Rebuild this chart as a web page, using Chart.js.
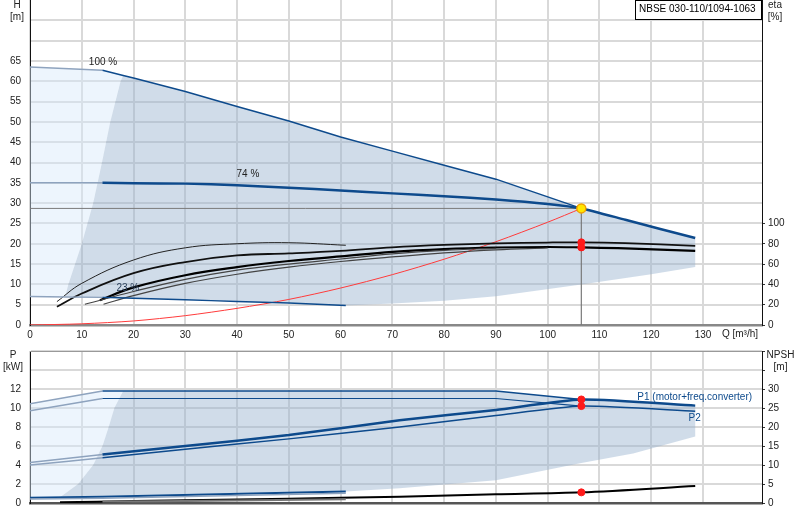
<!DOCTYPE html>
<html>
<head>
<meta charset="utf-8">
<script src="https://cdn.jsdelivr.net/npm/chart.js@4/dist/chart.umd.min.js"></script>
<style>
  body { margin: 0; background: #fff; overflow: hidden; }
  .wrap { position: absolute; left: 0; width: 800px; }
</style>
</head>
<body>
<div class="wrap" id="headWrap" style="top:-14px;height:354px"><canvas id="head"></canvas></div>
<div class="wrap" id="powerWrap" style="top:337px;height:183px"><canvas id="power"></canvas></div>
<script>
// ---- head chart (Q in m³/h, H in m, eta in %) ----
const qMax = [0, 14, 18, 20, 30, 40, 50, 60, 70, 80, 90, 106.5];
const hMax = [63.5, 62.7, 61.4, 60.8, 57.5, 53.8, 50.2, 46.3, 42.8, 39.3, 35.9, 28.7];
const qDuty = [0, 14, 20, 30, 40, 50, 60, 70, 80, 90, 100, 106.5, 115, 128.5];
const hDuty = [35, 35, 34.9, 34.8, 34.4, 33.8, 33.1, 32.4, 31.7, 30.9, 29.8, 28.7, 25.9, 21.4];
const qMin = [0, 14, 20, 30, 40, 50, 61];
const hMin = [7, 6.8, 6.6, 6.2, 5.8, 5.4, 4.8];
const qFlow = [6.8, 7.4, 10, 12.2, 13.9, 15.5, 17.5, 18];
const hFlow = [7, 10, 20, 30, 40, 50, 60, 61.4];
const qLow = [128.5, 120, 106.5, 90, 80, 70, 61];
const hLow = [14.3, 12.5, 10, 7.1, 6.0, 5.3, 4.8];
const qSys = [0, 10, 20, 30, 40, 50, 60, 70, 80, 90, 100, 106.5];
const hSys = [0, 0.3, 1.0, 2.3, 4.1, 6.3, 9.1, 12.4, 16.2, 20.5, 25.3, 28.7];
const qOp = 106.5;
const hOp = 28.7;
const etaOp = [81.4, 76.4];

const qEtaA = [5.2, 10, 20, 30, 40, 50, 61];
const etaA = [23, 41, 64, 76, 80, 81, 78.5];
const qEtaB = [5.2, 10, 20, 30, 40, 50, 60, 70, 80, 90, 100, 106.5, 115, 128.5];
const etaB = [18, 31, 51, 62, 68.5, 70.5, 73, 76.5, 78.8, 80.3, 81.2, 81.4, 80.6, 78];
const qEtaC = [13.5, 20, 30, 40, 50, 60, 70, 80, 90, 100, 106.5, 115, 128.5];
const etaC = [24.4, 37, 49, 57, 63, 67.5, 72, 74.8, 76.3, 76.8, 76.4, 75.5, 73];
const qEtaD = [10.6, 20, 30, 40, 50, 60, 70, 80, 90];
const etaD = [20.4, 33, 45, 54, 60, 65, 70, 73.5, 75.5];
const qEtaE = [14.2, 20, 30, 40, 50, 60, 70, 80, 90, 100];
const etaE = [20.4, 29, 41, 50, 57, 62.5, 67, 71, 74, 75.8];

// ---- power chart (P in kW, NPSH in m) ----
const qP1Max = [0, 14, 18, 90, 106.5];
const pP1Max = [10.45, 11.8, 11.8, 11.8, 10.9];
const qP2Max = [0, 14, 90, 106.5];
const pP2Max = [9.7, 11.0, 11.0, 10.2];
const qPDuty = [0, 14, 30, 50, 71.4, 90, 106.5, 128.5];
const pP1Duty = [4.27, 5.1, 6.0, 7.15, 8.7, 9.8, 10.9, 10.25];
const pP2Duty = [3.99, 4.76, 5.65, 6.75, 8.0, 9.2, 10.2, 9.66];
const qPMin = [0, 14, 61];
const pP1Min = [0.56, 0.66, 1.2];
const pP2Min = [0.42, 0.5, 1.02];
const qPFlow = [5.8, 9.3, 12.2, 14, 15.2, 16.3, 18];
const pFlow = [0.6, 2, 4, 6, 8, 10, 11.8];
const qPLow = [128.5, 116.5, 106.5, 90, 71.4, 61];
const pLow = [7.0, 5.2, 4.2, 2.4, 1.55, 1.2];
const qNpsh = [5.8, 20, 40, 60, 71.4, 90, 106.5, 128.5];
const npsh = [0.2, 0.5, 0.9, 1.35, 1.65, 2.28, 2.8, 4.46];
const qNpsh2 = [14, 35, 61];
const npsh2 = [0.4, 0.6, 1.0];
const pOp = [10.9, 10.2];
const npshOp = 2.8;

const qTicks = [0, 10, 20, 30, 40, 50, 60, 70, 80, 90, 100, 110, 120, 130];

const BLUE = '#0d4a8c';
const PALE = '#8ea3be';
const GRID = '#d9d9d9';
const FONT = '"Liberation Sans", Arial, sans-serif';

Chart.defaults.font.family = FONT;
Chart.defaults.font.size = 10;
Chart.defaults.color = '#222';

const pts = (qs, vs) => qs.map((q, i) => ({x: q, y: vs[i]}));

// first segment (left of min flow) drawn thin and pale
const paleStart = {
  borderColor: c => c.p0DataIndex === 0 ? PALE : undefined,
  borderWidth: c => c.p0DataIndex === 0 ? 1.5 : undefined,
};

function curve(data, color, width, extra) {
  return Object.assign({
    type: 'line', data, borderColor: color, borderWidth: width,
    pointRadius: 0, fill: false, tension: 0, order: 10,
  }, extra);
}
function area(data, color, order) {
  return {
    type: 'line', data, fill: 'shape', backgroundColor: color,
    borderColor: 'transparent', borderWidth: 0, pointRadius: 0, order,
  };
}
function dots(data, color, r, extra) {
  return Object.assign({
    type: 'line', data, showLine: false, pointRadius: r,
    pointBackgroundColor: color, pointBorderColor: color, order: 0,
  }, extra);
}

const notes = {
  id: 'notes',
  afterDraw(chart, args, opts) {
    const {ctx, chartArea: a, scales} = chart;
    ctx.save();
    ctx.font = '10px ' + FONT;
    ctx.textBaseline = 'middle';
    (opts.labels || []).forEach(l => {
      ctx.fillStyle = l.color || '#222';
      ctx.textAlign = l.align || 'center';
      ctx.fillText(l.text, scales.x.getPixelForValue(l.q), scales[l.axis || 'y'].getPixelForValue(l.v));
    });
    (opts.units || []).forEach(u => {
      ctx.fillStyle = '#222';
      ctx.textAlign = 'center';
      const x = u.left ? a.left - u.dx : a.right + u.dx;
      u.lines.forEach((t, i) => ctx.fillText(t, x, a.top + u.dy + i * 12));
    });
    if (opts.qLabel) {
      ctx.textAlign = 'center';
      ctx.fillStyle = '#222';
      ctx.fillText(opts.qLabel, a.right - 22, a.bottom + 9.5);
    }
    if (opts.topLine) {
      ctx.strokeStyle = opts.topLine;
      ctx.lineWidth = 1;
      ctx.beginPath();
      ctx.moveTo(a.left, a.top + 0.5);
      ctx.lineTo(a.right, a.top + 0.5);
      ctx.stroke();
    }
    if (opts.box) {
      const w = 127, h = 19;
      ctx.fillStyle = '#fff';
      ctx.fillRect(a.right - w, a.top, w, h);
      ctx.strokeStyle = '#000';
      ctx.lineWidth = 1;
      ctx.strokeRect(a.right - w + 0.5, a.top + 0.5, w - 1, h);
      ctx.fillStyle = '#000';
      ctx.textAlign = 'left';
      ctx.fillText(opts.box, a.right - w + 4, a.top + 9.5);
    }
    ctx.restore();
  }
};

function xScale(showLabels, h, borderColor) {
  return {
    type: 'linear', min: 0, max: 141.4,
    afterFit: s => { s.height = h; },
    grid: {color: GRID, lineWidth: 2, drawTicks: false},
    border: {color: borderColor, width: 2.5},
    ticks: {
      display: showLabels, stepSize: 10, autoSkip: false, maxRotation: 0, padding: 4,
      callback: v => qTicks.includes(v) ? String(v) : (v === 140 ? '' : null),
    },
  };
}

// move/resize the canvas box so the plot area lands on the wanted page rows
function pin(chart, wrap, areaTop, areaHeight, axisHeight) {
  const t = chart.chartArea.top;
  wrap.style.top = (areaTop - t) + 'px';
  wrap.style.height = (t + areaHeight + axisHeight) + 'px';
  chart.resize();
}

// ---------------- head chart ----------------
const grayHead = pts(qFlow, hFlow)
  .concat(pts(qMax, hMax).slice(3))
  .concat(pts(qDuty, hDuty).slice(12))
  .concat(pts(qLow, hLow))
  .concat(pts(qMin, hMin).slice(1, 6).reverse());
const lightHead = pts(qMin, hMin).slice(0, 1)
  .concat(pts(qFlow, hFlow))
  .concat(pts(qMax, hMax).slice(0, 2).reverse());

const head = new Chart(document.getElementById('head'), {
  data: {
    datasets: [
      area(lightHead, 'rgba(215,233,251,0.45)', 31),
      area(grayHead, 'rgba(150,178,206,0.45)', 30),
      curve(pts([0, qOp], [hOp, hOp]), '#7a7a7a', 1, {order: 12}),
      curve(pts([qOp, qOp], [0, hOp]), '#7a7a7a', 1.2, {order: 12}),
      curve(pts(qSys, hSys), '#ff3b3b', 1, {tension: 0.3, order: 11}),
      curve(pts(qMax, hMax), BLUE, 1.5, {segment: paleStart}),
      curve(pts(qMin, hMin), BLUE, 1.5, {segment: paleStart, tension: 0.2}),
      curve(pts(qDuty, hDuty), BLUE, 2.5, {segment: paleStart, tension: 0.2, order: 9}),
      curve(pts(qEtaA, etaA), '#222', 1, {yAxisID: 'eta', tension: 0.4}),
      curve(pts(qEtaD, etaD), '#444', 1.2, {yAxisID: 'eta', tension: 0.4}),
      curve(pts(qEtaE, etaE), '#444', 1.2, {yAxisID: 'eta', tension: 0.4}),
      curve(pts(qEtaB, etaB), '#111', 1.8, {yAxisID: 'eta', tension: 0.4}),
      curve(pts(qEtaC, etaC), '#000', 2.2, {yAxisID: 'eta', tension: 0.4}),
      dots(pts([qOp, qOp], etaOp), '#ff1a1a', 3.5, {yAxisID: 'eta'}),
      dots(pts([qOp], [hOp]), '#ffe600', 4.5, {pointBorderColor: '#f0a000', pointBorderWidth: 1.5}),
    ]
  },
  options: {
    responsive: true, maintainAspectRatio: false, animation: false, events: [],
    devicePixelRatio: 1,
    layout: {padding: 0, autoPadding: false},
    plugins: {
      legend: {display: false}, tooltip: {enabled: false},
      notes: {
        box: 'NBSE 030-110/1094-1063',
        qLabel: 'Q [m³/h]',
        units: [
          {left: true, dx: 13, dy: 5, lines: ['H', '[m]']},
          {left: false, dx: 13, dy: 5, lines: ['eta', '[%]']},
        ],
        labels: [
          {text: '100 %', q: 14.1, v: 64.8},
          {text: '74 %', q: 42.1, v: 37.1},
          {text: '23 %', q: 18.9, v: 9.0, color: '#2a3f5a'},
        ],
      },
    },
    scales: {
      x: xScale(true, 15, '#888'),
      y: {
        type: 'linear', position: 'left', min: 0, max: 80,
        afterFit: s => { s.width = 30; },
        grid: {color: GRID, lineWidth: 2, drawTicks: false},
        border: {color: '#111', width: 1},
        ticks: {
          stepSize: 5, padding: 9, autoSkip: false,
          callback: v => v <= 65 ? String(v) : (v < 80 ? '' : null),
        },
      },
      eta: {
        type: 'linear', position: 'right', min: 0, max: 320,
        afterFit: s => { s.width = 38; },
        grid: {drawOnChartArea: false, drawTicks: true, tickLength: 3, color: '#333'},
        border: {color: '#111', width: 1},
        ticks: {
          stepSize: 20, padding: 3, autoSkip: false,
          callback: v => v <= 100 ? String(v) : null,
        },
      },
    },
  },
  plugins: [notes],
});
pin(head, document.getElementById('headWrap'), 0, 325, 15);

// ---------------- power chart ----------------
const grayPower = pts(qPFlow, pFlow)
  .concat(pts(qP1Max, pP1Max).slice(3))
  .concat(pts(qPDuty, pP1Duty).slice(7))
  .concat(pts(qPLow, pLow))
  .concat(pts(qPMin, pP1Min).slice(1, 2));
const lightPower = pts(qPMin, pP1Min).slice(0, 1)
  .concat(pts(qPFlow, pFlow))
  .concat(pts(qP1Max, pP1Max).slice(0, 2).reverse());

const power = new Chart(document.getElementById('power'), {
  data: {
    datasets: [
      area(lightPower, 'rgba(215,233,251,0.45)', 31),
      area(grayPower, 'rgba(150,178,206,0.45)', 30),
      curve(pts(qP1Max, pP1Max), BLUE, 1.5, {segment: paleStart}),
      curve(pts(qP2Max, pP2Max), BLUE, 1.2, {segment: paleStart}),
      curve(pts(qPDuty, pP1Duty), BLUE, 2.5, {segment: paleStart, tension: 0.2, order: 9}),
      curve(pts(qPDuty, pP2Duty), BLUE, 1.5, {segment: paleStart, tension: 0.2, order: 9}),
      curve(pts(qPMin, pP2Min), PALE, 1.5),
      curve(pts(qPMin, pP1Min), BLUE, 2),
      curve(pts(qNpsh2, npsh2), '#777', 2, {yAxisID: 'npsh', tension: 0.3}),
      curve(pts(qNpsh, npsh), '#000', 2, {yAxisID: 'npsh', tension: 0.3}),
      dots(pts([qOp, qOp], pOp), '#ff1a1a', 3.5),
      dots(pts([qOp], [npshOp]), '#ff1a1a', 3.5, {yAxisID: 'npsh'}),
    ]
  },
  options: {
    responsive: true, maintainAspectRatio: false, animation: false, events: [],
    devicePixelRatio: 1,
    layout: {padding: 0, autoPadding: false},
    plugins: {
      legend: {display: false}, tooltip: {enabled: false},
      notes: {
        topLine: '#999',
        units: [
          {left: true, dx: 17, dy: 4.5, lines: ['P', '[kW]']},
          {left: false, dx: 18.5, dy: 4.5, lines: ['NPSH', '[m]']},
        ],
        labels: [
          {text: 'P1 (motor+freq.converter)', q: 128.4, v: 11.17, color: BLUE},
          {text: 'P2', q: 127.2, v: 8.96, color: BLUE, align: 'left'},
        ],
      },
    },
    scales: {
      x: xScale(false, 17, '#555'),
      y: {
        type: 'linear', position: 'left', min: 0, max: 16,
        afterFit: s => { s.width = 30; },
        grid: {color: GRID, lineWidth: 2, drawTicks: false},
        border: {color: '#111', width: 1},
        ticks: {
          stepSize: 2, padding: 9, autoSkip: false,
          callback: v => v <= 12 ? String(v) : '',
        },
      },
      npsh: {
        type: 'linear', position: 'right', min: 0, max: 40,
        afterFit: s => { s.width = 38; },
        grid: {drawOnChartArea: false, drawTicks: true, tickLength: 3, color: '#333'},
        border: {color: '#111', width: 1},
        ticks: {
          stepSize: 5, padding: 3, autoSkip: false,
          callback: v => v <= 30 ? String(v) : '',
        },
      },
    },
  },
  plugins: [notes],
});
pin(power, document.getElementById('powerWrap'), 351, 152, 17);
</script>
</body>
</html>
